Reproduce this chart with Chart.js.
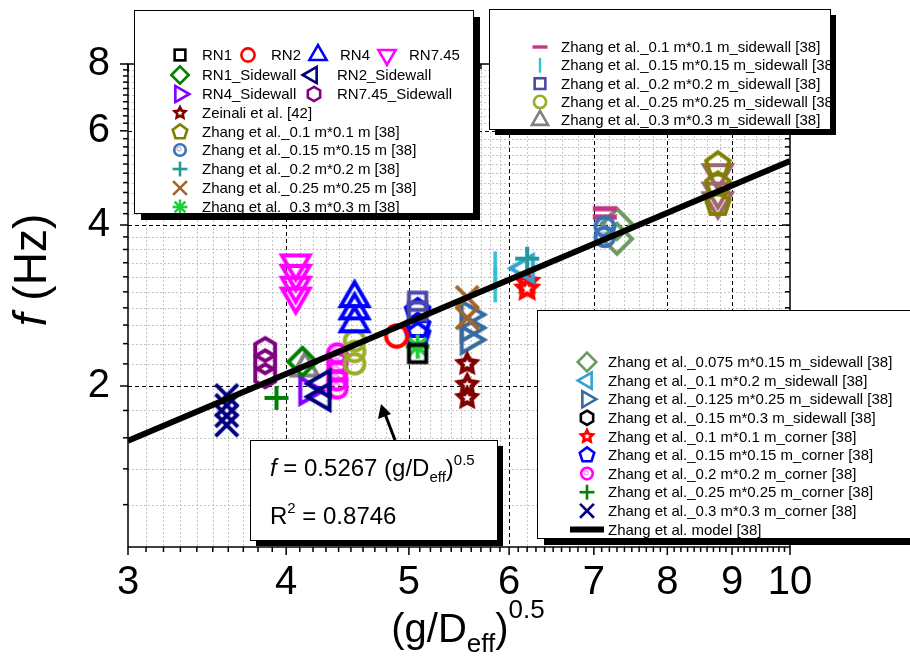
<!DOCTYPE html>
<html>
<head>
<meta charset="utf-8">
<script src="https://cdn.jsdelivr.net/npm/chart.js@4.4.1/dist/chart.umd.min.js"></script>
<style>
  html, body { margin: 0; padding: 0; background: #fff; }
</style>
</head>
<body>
<canvas id="chart" width="910" height="657"></canvas>
<script>
'use strict';

var FONT = '"Liberation Sans", Arial, sans-serif';

// tick labels
var xTicks = [3, 4, 5, 6, 7, 8, 9, 10];
var yTicks = [2, 4, 6, 8];

// [x, y] pairs
var rn1 = [[5.08, 2.30]];
var rn2 = [[4.89, 2.48]];
var rn4 = [[4.53, 2.92], [4.53, 2.77], [4.53, 2.62]];
var rn745 = [[4.07, 3.39], [4.07, 3.24], [4.07, 3.08], [4.07, 2.94]];
var rn1Side = [[4.12, 2.22]];
var rn2Side = [[4.27, 2.02], [4.27, 1.91]];
var rn4Side = [[4.16, 1.96]];
var rn745Side = [[3.85, 2.34], [3.85, 2.22], [3.85, 2.09]];
var zeinali = [[5.56, 2.20], [5.56, 2.01], [5.56, 1.90]];
var z010 = [[8.77, 5.19], [8.77, 4.76], [8.77, 4.38]];
var z015 = [[7.14, 3.97], [7.14, 3.80]];
var z020 = [[6.20, 3.46]];
var z025 = [[5.56, 2.93], [5.56, 2.68]];
var z030 = [[5.08, 2.37]];
var z010Side = [[7.14, 4.29], [7.14, 4.14]];
var z015Side = [[5.85, 3.39], [5.85, 3.18], [5.85, 3.02]];
var z020Side = [[5.08, 2.88], [5.08, 2.76]];
var z025Side = [[4.53, 2.43], [4.53, 2.32], [4.53, 2.20]];
var z030Side = [[4.14, 2.16]];
var z0075Side = [[7.30, 4.02], [7.30, 3.77]];
var z01x02Side = [[6.18, 3.32]];
var z0125Side = [[5.58, 2.72], [5.58, 2.57], [5.58, 2.44]];
var z015x03Side = [];
var z010Corner = [[6.20, 3.13], [6.20, 3.04]];
var z015Corner = [[5.08, 2.76], [5.08, 2.59], [5.08, 2.49]];
var z020Corner = [[4.39, 2.30], [4.39, 2.21], [4.39, 2.13], [4.39, 2.05], [4.39, 1.98]];
var z025Corner = [[3.93, 1.90]];
var z030Corner = [[3.59, 1.92], [3.59, 1.84], [3.59, 1.76], [3.59, 1.69]];
var unlabeled = [[8.77, 5.00], [8.77, 4.62], [8.77, 4.43]];
var modelX = [3, 10];
var modelY = [1.58, 5.267];

// minor tick / grid positions
var xMinor = [];
for (var i = 30; i <= 100; i++) { if (i % 10) xMinor.push(i / 10); }
var xGridMinor = xMinor.filter(function (v) { return v < 6 || Math.round(v * 10) % 2 === 0; });
var yMinor = [];
for (var j = 6; j <= 40; j++) { if (j % 10 && j % 20) yMinor.push(j / 5); }
yMinor = yMinor.filter(function (v) { return [2, 4, 6, 8].indexOf(v) < 0 && v > 1; });

function poly(g, n, r, start) {
  g.beginPath();
  for (var k = 0; k < n; k++) {
    var a = (start + k * 360 / n) * Math.PI / 180;
    if (k === 0) g.moveTo(r * Math.cos(a), r * Math.sin(a));
    else g.lineTo(r * Math.cos(a), r * Math.sin(a));
  }
  g.closePath();
}
function starPath(g, r, ri) {
  g.beginPath();
  for (var k = 0; k < 10; k++) {
    var a = (-90 + k * 36) * Math.PI / 180, rr = k % 2 ? ri : r;
    if (k === 0) g.moveTo(rr * Math.cos(a), rr * Math.sin(a));
    else g.lineTo(rr * Math.cos(a), rr * Math.sin(a));
  }
  g.closePath();
}
function seg(g, x1, y1, x2, y2) {
  g.beginPath(); g.moveTo(x1, y1); g.lineTo(x2, y2); g.stroke();
}

function paintMarker(g, shape, color, r, lw) {
  g.save();
  g.strokeStyle = color; g.fillStyle = color; g.lineWidth = lw; g.lineJoin = 'miter';
  var d;
  switch (shape) {
    case 'square': g.strokeRect(-r * 0.72, -r * 0.72, r * 1.44, r * 1.44); break;
    case 'circle': g.beginPath(); g.arc(0, 0, r * 0.82, 0, 2 * Math.PI); g.stroke(); break;
    case 'circleHi':
      g.beginPath(); g.arc(0, 0, r * 0.78, 0, 2 * Math.PI); g.stroke();
      g.globalAlpha = 0.45; g.lineWidth = lw * 0.5;
      g.beginPath(); g.arc(-r * 0.12, -r * 0.12, r * 0.28, 0, 2 * Math.PI); g.stroke();
      break;
    case 'triUp': poly(g, 3, r, -90); g.stroke(); break;
    case 'triDown': poly(g, 3, r, 90); g.stroke(); break;
    case 'triLeft': poly(g, 3, r, 180); g.stroke(); break;
    case 'triRight': poly(g, 3, r, 0); g.stroke(); break;
    case 'diamond': poly(g, 4, r, -90); g.stroke(); break;
    case 'hexagon': poly(g, 6, r * 0.88, -90); g.stroke(); break;
    case 'pentagon': poly(g, 5, r * 0.88, -90); g.stroke(); break;
    case 'star':
      starPath(g, r, r * 0.5); g.fill();
      g.fillStyle = '#ffffff'; starPath(g, r * 0.32, r * 0.15); g.fill();
      break;
    case 'plus': seg(g, -r, 0, r, 0); seg(g, 0, -r, 0, r); break;
    case 'cross': d = r * 0.8; seg(g, -d, -d, d, d); seg(g, -d, d, d, -d); break;
    case 'asterisk':
      d = r * 0.72; seg(g, -r, 0, r, 0); seg(g, 0, -r, 0, r);
      seg(g, -d, -d, d, d); seg(g, -d, d, d, -d); break;
    case 'hbar': g.lineWidth = lw * 1.3; seg(g, -r, 0, r, 0); break;
    case 'vbar': g.lineWidth = lw * 0.9; seg(g, 0, -r, 0, r); break;
  }
  g.restore();
}

function makeMarker(shape, color, r, lw) {
  var c = document.createElement('canvas');
  var s = Math.ceil(2 * r + 2 * lw + 4);
  c.width = s; c.height = s;
  var g = c.getContext('2d');
  g.translate(s / 2, s / 2);
  paintMarker(g, shape, color, r, lw);
  return c;
}

var series = [
  { name: 'RN1', data: rn1, shape: 'square', color: '#000000', r: 12 },
  { name: 'RN2', data: rn2, shape: 'circle', color: '#ff0000', r: 13 },
  { name: 'RN4', data: rn4, shape: 'triUp', color: '#0000ff', r: 16 },
  { name: 'RN7.45', data: rn745, shape: 'triDown', color: '#ff00ff', r: 16 },
  { name: 'RN1_Sidewall', data: rn1Side, shape: 'diamond', color: '#008000', r: 14 },
  { name: 'RN2_Sidewall', data: rn2Side, shape: 'triLeft', color: '#000080', r: 15 },
  { name: 'RN4_Sidewall', data: rn4Side, shape: 'triRight', color: '#8000ff', r: 15 },
  { name: 'RN7.45_Sidewall', data: rn745Side, shape: 'hexagon', color: '#800080', r: 13 },
  { name: 'Zeinali et al. [42]', data: zeinali, shape: 'star', color: '#800000', r: 14 },
  { name: 'Zhang et al._0.1 m*0.1 m [38]', data: z010, shape: 'pentagon', color: '#808000', r: 14 },
  { name: 'Zhang et al._0.15 m*0.15 m [38]', data: z015, shape: 'circleHi', color: '#3b71b5', r: 12 },
  { name: 'Zhang et al._0.2 m*0.2 m [38]', data: z020, shape: 'plus', color: '#23999b', r: 12 },
  { name: 'Zhang et al._0.25 m*0.25 m [38]', data: z025, shape: 'cross', color: '#a0652a', r: 14 },
  { name: 'Zhang et al._0.3 m*0.3 m [38]', data: z030, shape: 'asterisk', color: '#22cc3a', r: 12 },
  { name: 'Zhang et al._0.1 m*0.1 m_sidewall [38]', data: z010Side, shape: 'hbar', color: '#c43488', r: 12 },
  { name: 'Zhang et al._0.15 m*0.15 m_sidewall [38]', data: z015Side, shape: 'vbar', color: '#2ec3d4', r: 12 },
  { name: 'Zhang et al._0.2 m*0.2 m_sidewall [38]', data: z020Side, shape: 'square', color: '#4a4aa6', r: 12 },
  { name: 'Zhang et al._0.25 m*0.25 m_sidewall [38]', data: z025Side, shape: 'circle', color: '#9aab25', r: 12 },
  { name: 'Zhang et al._0.3 m*0.3 m_sidewall [38]', data: z030Side, shape: 'triUp', color: '#808080', r: 15 },
  { name: 'Zhang et al._0.075 m*0.15 m_sidewall [38]', data: z0075Side, shape: 'diamond', color: '#6b9a62', r: 15 },
  { name: 'Zhang et al._0.1 m*0.2 m_sidewall [38]', data: z01x02Side, shape: 'triLeft', color: '#33a2d2', r: 15 },
  { name: 'Zhang et al._0.125 m*0.25 m_sidewall [38]', data: z0125Side, shape: 'triRight', color: '#386a9f', r: 15 },
  { name: 'Zhang et al._0.15 m*0.3 m_sidewall [38]', data: z015x03Side, shape: 'hexagon', color: '#000000', r: 13 },
  { name: 'Zhang et al._0.1 m*0.1 m_corner [38]', data: z010Corner, shape: 'star', color: '#ff0000', r: 15 },
  { name: 'Zhang et al._0.15 m*0.15 m_corner [38]', data: z015Corner, shape: 'pentagon', color: '#0000ff', r: 14 },
  { name: 'Zhang et al._0.2 m*0.2 m_corner [38]', data: z020Corner, shape: 'circleHi', color: '#ff00ff', r: 12 },
  { name: 'Zhang et al._0.25 m*0.25 m_corner [38]', data: z025Corner, shape: 'plus', color: '#008000', r: 12 },
  { name: 'Zhang et al._0.3 m*0.3 m_corner [38]', data: z030Corner, shape: 'cross', color: '#000080', r: 14 },
  { name: '', data: unlabeled, shape: 'triDown', color: '#a06868', r: 16 }
];
function byName(n) { return series.filter(function (s) { return s.name === n; })[0]; }

var datasets = [{
  label: 'Zhang et al. model [38]',
  data: modelX.map(function (x, k) { return { x: x, y: modelY[k] }; }),
  showLine: true, borderColor: '#000000', borderWidth: 6, pointRadius: 0, order: 0
}];
series.forEach(function (s) {
  datasets.push({
    label: s.name,
    data: s.data.map(function (p) { return { x: p[0], y: p[1] }; }),
    pointStyle: makeMarker(s.shape, s.color, s.r, 4),
    pointRadius: s.r, borderColor: s.color, backgroundColor: s.color, order: 1
  });
});

// legend layout
var legend1 = [
  [180, 202, 55, 'RN1'], [248, 271, 55, 'RN2'], [318, 340, 55, 'RN4'], [387, 409, 55, 'RN7.45'],
  [180, 202, 75, 'RN1_Sidewall'], [312, 337, 75, 'RN2_Sidewall'],
  [180, 202, 94, 'RN4_Sidewall'], [314, 337, 94, 'RN7.45_Sidewall'],
  [180, 202, 113, 'Zeinali et al. [42]'],
  [180, 202, 132, 'Zhang et al._0.1 m*0.1 m [38]'],
  [180, 202, 150, 'Zhang et al._0.15 m*0.15 m [38]'],
  [180, 202, 169, 'Zhang et al._0.2 m*0.2 m [38]'],
  [180, 202, 188, 'Zhang et al._0.25 m*0.25 m [38]'],
  [180, 202, 207, 'Zhang et al._0.3 m*0.3 m [38]']
];
var legend2Names = ['Zhang et al._0.1 m*0.1 m_sidewall [38]', 'Zhang et al._0.15 m*0.15 m_sidewall [38]',
  'Zhang et al._0.2 m*0.2 m_sidewall [38]', 'Zhang et al._0.25 m*0.25 m_sidewall [38]',
  'Zhang et al._0.3 m*0.3 m_sidewall [38]'];
var legend3Names = ['Zhang et al._0.075 m*0.15 m_sidewall [38]', 'Zhang et al._0.1 m*0.2 m_sidewall [38]',
  'Zhang et al._0.125 m*0.25 m_sidewall [38]', 'Zhang et al._0.15 m*0.3 m_sidewall [38]',
  'Zhang et al._0.1 m*0.1 m_corner [38]', 'Zhang et al._0.15 m*0.15 m_corner [38]',
  'Zhang et al._0.2 m*0.2 m_corner [38]', 'Zhang et al._0.25 m*0.25 m_corner [38]',
  'Zhang et al._0.3 m*0.3 m_corner [38]'];

function shadowBox(ctx, x, y, w, h, off) {
  ctx.save();
  ctx.fillStyle = '#000';
  ctx.fillRect(x + off, y + off, w, h);
  ctx.fillStyle = '#fff';
  ctx.fillRect(x, y, w, h);
  ctx.strokeStyle = '#000'; ctx.lineWidth = 1;
  ctx.strokeRect(x + 0.5, y + 0.5, w, h);
  ctx.restore();
}
function clipBox(ctx, x, y, w, h) {
  ctx.save(); ctx.beginPath(); ctx.rect(x + 1, y + 1, w - 1, h - 1); ctx.clip();
}
function legendItem(ctx, mx, tx, y, name) {
  var s = byName(name);
  ctx.save(); ctx.translate(mx, y);
  paintMarker(ctx, s.shape, s.color, s.r * 0.62, 2.6);
  ctx.restore();
  ctx.fillStyle = '#000'; ctx.font = '15px ' + FONT;
  ctx.textAlign = 'left'; ctx.textBaseline = 'middle';
  ctx.fillText(name, tx, y + 1);
}
// runs: [text, size, dy, italic]
function richText(ctx, runs, x, y, align) {
  var w = 0;
  runs.forEach(function (r) { ctx.font = (r[3] ? 'italic ' : '') + r[1] + 'px ' + FONT; r.w = ctx.measureText(r[0]).width; w += r.w; });
  var cx = align === 'center' ? x - w / 2 : x;
  ctx.textAlign = 'left'; ctx.textBaseline = 'alphabetic'; ctx.fillStyle = '#000';
  runs.forEach(function (r) {
    ctx.font = (r[3] ? 'italic ' : '') + r[1] + 'px ' + FONT;
    ctx.fillText(r[0], cx, y + r[2]); cx += r.w;
  });
}

var decor = {
  id: 'decor',
  beforeDatasetsDraw: function (chart) {
    var ctx = chart.ctx, a = chart.chartArea, xs = chart.scales.x, ys = chart.scales.y;
    ctx.save();
    ctx.lineWidth = 1;
    ctx.strokeStyle = '#c4c4c4'; ctx.setLineDash([2, 2]);
    xGridMinor.forEach(function (v) { var p = Math.round(xs.getPixelForValue(v)) + 0.5; seg(ctx, p, a.top, p, a.bottom); });
    yMinor.forEach(function (v) { var p = Math.round(ys.getPixelForValue(v)) + 0.5; seg(ctx, a.left, p, a.right, p); });
    ctx.strokeStyle = '#000'; ctx.setLineDash([4, 3]);
    xTicks.slice(1, -1).forEach(function (v) { var p = Math.round(xs.getPixelForValue(v)) + 0.5; seg(ctx, p, a.top, p, a.bottom); });
    yTicks.slice(0, -1).forEach(function (v) { var p = Math.round(ys.getPixelForValue(v)) + 0.5; seg(ctx, a.left, p, a.right, p); });
    ctx.restore();
  },
  afterDatasetsDraw: function (chart) {
    var ctx = chart.ctx, a = chart.chartArea, xs = chart.scales.x, ys = chart.scales.y;
    ctx.save();
    ctx.strokeStyle = '#000'; ctx.lineWidth = 1.5; ctx.setLineDash([]);
    ctx.strokeRect(a.left, a.top, a.right - a.left, a.bottom - a.top);
    // tick marks
    function xt(v, len) {
      var p = xs.getPixelForValue(v);
      seg(ctx, p, a.bottom, p, a.bottom + len); seg(ctx, p, a.top, p, a.top + len);
    }
    function yt(v, len) {
      var p = ys.getPixelForValue(v);
      seg(ctx, a.left - len, p, a.left, p); seg(ctx, a.right - len, p, a.right, p);
    }
    xTicks.forEach(function (v) { xt(v, 8); });
    xMinor.forEach(function (v) { xt(v, 5); });
    yTicks.forEach(function (v) { yt(v, 8); });
    yMinor.forEach(function (v) { yt(v, 5); });

    // fit annotation with arrow
    shadowBox(ctx, 250, 440, 247, 100, 6);
    ctx.lineWidth = 3;
    seg(ctx, 395, 440, 385, 414);
    ctx.beginPath(); ctx.moveTo(381, 404); ctx.lineTo(378, 419); ctx.lineTo(391, 414); ctx.closePath();
    ctx.fillStyle = '#000'; ctx.fill();
    richText(ctx, [['f', 24, 0, true], [' = 0.5267 (g/D', 24, 0], ['eff', 15, 6], [')', 24, 0], ['0.5', 15, -11]], 270, 476);
    richText(ctx, [['R', 24, 0], ['2', 15, -11], [' = 0.8746', 24, 0]], 270, 524);

    // legends
    shadowBox(ctx, 134, 10, 339, 203, 7);
    clipBox(ctx, 134, 10, 339, 203);
    legend1.forEach(function (it) { legendItem(ctx, it[0], it[1], it[2], it[3]); });
    ctx.restore();
    shadowBox(ctx, 489, 9, 341, 120, 6);
    clipBox(ctx, 489, 9, 341, 120);
    legend2Names.forEach(function (n, k) { legendItem(ctx, 540, 561, 47 + k * 18.3, n); });
    ctx.restore();
    shadowBox(ctx, 537, 310, 390, 228, 7);
    clipBox(ctx, 537, 310, 390, 228);
    legend3Names.forEach(function (n, k) { legendItem(ctx, 587, 608, 362 + k * 18.6, n); });
    ctx.lineWidth = 6; ctx.strokeStyle = '#000';
    seg(ctx, 570, 362 + 9 * 18.6, 604, 362 + 9 * 18.6);
    ctx.fillStyle = '#000'; ctx.font = '15px ' + FONT; ctx.textBaseline = 'middle';
    ctx.fillText('Zhang et al. model [38]', 608, 362 + 9 * 18.6 + 1);
    ctx.restore();

    // axis titles
    richText(ctx, [['(g/D', 40, 0], ['eff', 26, 10], [')', 40, 0], ['0.5', 26, -24]], 468, 642, 'center');
    ctx.save();
    ctx.translate(46, 270); ctx.rotate(-Math.PI / 2);
    richText(ctx, [['f', 46, 0, true], [' (Hz)', 46, 0]], 0, 0, 'center');
    ctx.restore();
    ctx.restore();
  }
};

var tickFont = { family: FONT, size: 40 };
new Chart(document.getElementById('chart'), {
  type: 'scatter',
  data: { datasets: datasets },
  options: {
    responsive: false,
    animation: false,
    layout: { padding: { top: 64, right: 120, left: 0, bottom: 0 } },
    plugins: { legend: { display: false }, tooltip: { enabled: false } },
    scales: {
      x: {
        type: 'logarithmic', min: 3, max: 10,
        afterBuildTicks: function (s) { s.ticks = xTicks.map(function (v) { return { value: v }; }); },
        afterFit: function (s) { s.height = 110; },
        ticks: { callback: function (v) { return String(v); }, font: tickFont, color: '#000', padding: 4, maxRotation: 0, autoSkip: false },
        grid: { display: false },
        border: { display: false }
      },
      y: {
        type: 'logarithmic', min: 1, max: 8,
        afterBuildTicks: function (s) { s.ticks = yTicks.map(function (v) { return { value: v }; }); },
        afterFit: function (s) { s.width = 128; },
        ticks: { callback: function (v) { return String(v); }, font: tickFont, color: '#000', padding: 10, autoSkip: false },
        grid: { display: false },
        border: { display: false }
      }
    }
  },
  plugins: [decor]
});
</script>
</body>
</html>
